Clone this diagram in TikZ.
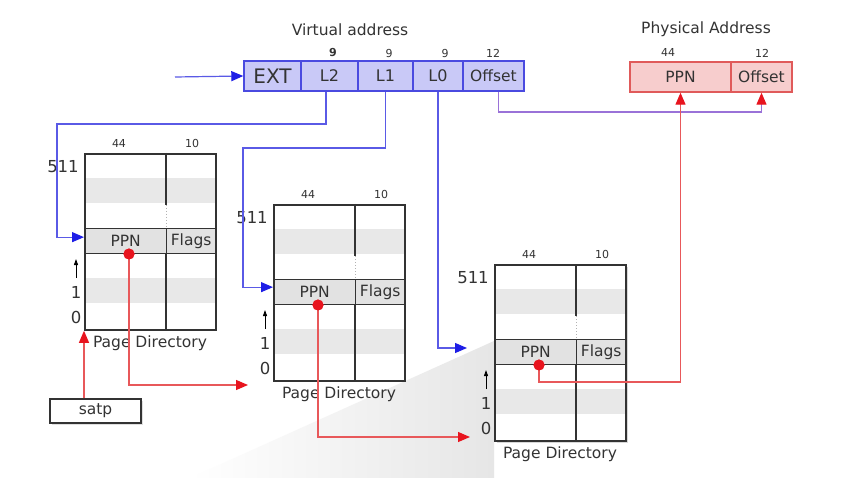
\documentclass[tikz,border=0pt]{standalone}
\usepackage{fontspec}
\setmainfont{DejaVu Sans}
\usetikzlibrary{arrows.meta,shadows}
\definecolor{txt}{HTML}{333333}
\definecolor{vafill}{HTML}{C9C9F7}
\definecolor{vaborder}{HTML}{4A4AE0}
\definecolor{pafill}{HTML}{F7CDCD}
\definecolor{paborder}{HTML}{E05A5A}
\definecolor{bluel}{HTML}{5A5AE6}
\definecolor{bluetip}{HTML}{1E1EE6}
\definecolor{redl}{HTML}{E8585A}
\definecolor{redtip}{HTML}{E8141E}
\definecolor{offl}{HTML}{9A72D8}
\definecolor{rowgray}{HTML}{E2E2E2}
\definecolor{stripe}{HTML}{E8E8E8}
\definecolor{wedgec}{HTML}{E6E6E6}
\newcommand\fsz[1]{\fontsize{#1}{#1}\selectfont}
\tikzset{
  vafield/.style={draw=vaborder, fill=vafill, line width=1.4pt, minimum height=30pt, inner sep=0pt, text=txt, font=\fsz{16}},
  pafield/.style={draw=paborder, fill=pafill, line width=1.4pt, minimum height=30pt, inner sep=0pt, text=txt, font=\fsz{15.5}},
  bits/.style={text=txt, font=\fsz{11}, inner sep=0pt},
  title/.style={text=txt, font=\fsz{15.5}, inner sep=0pt},
  idx/.style={text=txt, font=\fsz{16.5}, inner sep=0pt},
  ppncell/.style={draw=txt, fill=rowgray, line width=1.3pt, minimum width=82pt, minimum height=25pt, inner sep=0pt, text=txt, font=\fsz{15.5}},
  flagcell/.style={draw=txt, fill=rowgray, line width=1.3pt, minimum width=49pt, minimum height=25pt, inner sep=0pt, text=txt, font=\fsz{15.5}},
  tframe/.style={draw=txt, line width=1.8pt, minimum width=131pt, minimum height=176pt, inner sep=0pt},
  tline/.style={draw=txt, line width=1.3pt},
  dotnode/.style={circle, fill=redtip, minimum size=11pt, inner sep=0pt},
  tipb/.style={-{Triangle[length=12pt,width=10pt,color=bluetip]}},
  tipr/.style={-{Triangle[length=12pt,width=10pt,color=redtip]}},
  bline/.style={draw=bluel, line width=1.2pt, tipb},
  rline/.style={draw=redl, line width=1.2pt, tipr},
  oline/.style={draw=offl, line width=1.2pt, tipr},
  uparrow/.style={draw=black, line width=0.9pt, -{Triangle[length=6pt,width=4pt]}},
  satpbox/.style={draw=txt, fill=white, line width=1.5pt, minimum width=91pt, minimum height=24pt, inner sep=0pt, text=txt, font=\fsz{15.5}, drop shadow={opacity=0.25, shadow xshift=2pt, shadow yshift=-2pt}},
}
\newcommand\pagetable[4]{%
\begin{scope}[shift={(#2,#3)}]
  \fill[white,#4] (0,0) rectangle (131,176);
  \fill[stripe] (0,25) rectangle (131,50);
  \fill[stripe] (0,125) rectangle (131,150);
  \node[ppncell, anchor=north west] (#1ppn) at (0,75) {PPN};
  \node[flagcell, anchor=north west] (#1flags) at (82,75) {Flags};
  \draw[tline] (82,0) -- (82,52);
  \draw[draw=gray!60, line width=1pt, dotted] (82,52) -- (82,75);
  \draw[tline] (82,100) -- (82,176);
  \node[tframe, anchor=north west] (#1) at (0,0) {};
  \node[bits] (#1wa) at (35,-10) {44};
  \node[bits] (#1wb) at (108,-10) {10};
  \node[idx] (#1top) at (-21,14) {511};
  \coordinate (#1ua) at (-8,125);
  \coordinate (#1ub) at (-8,106);
  \draw[uparrow] (#1ua) -- (#1ub);
  \node[idx] (#1one) at (-8,139) {1};
  \node[idx] (#1zero) at (-8,164) {0};
  \node[title] (#1name) at (66,190) {Page Directory};
  \node[dotnode] (#1dot) at (45,101) {};
\end{scope}}
\begin{document}
\begin{tikzpicture}[x=1pt,y=-1pt]
\useasboundingbox (0,0) rectangle (845,478);
\fill[white] (0,0) rectangle (845,478);
% background wedge
\shade[left color=white, right color=wedgec] (190,478) -- (494,341) -- (494,478) -- cycle;

% virtual address
\node[title] (vatitle) at (350,30) {Virtual address};
\node[vafield, minimum width=57pt, font=\fsz{20}] (ext) at (272.5,76) {EXT};
\node[vafield, minimum width=57pt] (L2) at (329.5,76) {L2};
\node[vafield, minimum width=55pt] (L1) at (385.5,76) {L1};
\node[vafield, minimum width=50pt] (L0) at (438,76) {L0};
\node[vafield, minimum width=61pt, font=\fsz{15.5}] (voff) at (493.5,76) {Offset};
\node[bits, font=\bfseries\fsz{11}] (b2) at (333,53) {9};
\node[bits] (b1) at (389,53) {9};
\node[bits] (b0) at (445,53) {9};
\node[bits] (bo) at (493,53) {12};
\coordinate (vain) at (175,77);
\draw[bline] (vain) -- (ext.west);

% physical address
\node[title] (patitle) at (706,29) {Physical Address};
\node[pafield, minimum width=101pt] (pppn) at (680.5,77) {PPN};
\node[pafield, minimum width=61pt] (poff) at (761.5,77) {Offset};
\node[bits] (pb1) at (668,52) {44};
\node[bits] (pb2) at (762,53) {12};

% page tables
\pagetable{t1}{84}{153}{}
\pagetable{t2}{273}{204}{}
\pagetable{t3}{494}{264}{drop shadow={opacity=0.3, shadow xshift=3pt, shadow yshift=-3pt}}

% satp
\node[satpbox] (satp) at (95.5,411) {satp};

% blue connectors
\coordinate (l2bend) at (57,124);
\coordinate (l1bend) at (243,148);
\coordinate (l0end) at (467,348);
\coordinate (offy) at (600,112);
\draw[bline] ([xshift=-3.5pt]L2.south) |- (l2bend) |- ([yshift=4pt]t1ppn.west);
\draw[bline] (L1.south) |- (l1bend) |- ([yshift=5pt]t2ppn.west);
\draw[bline] (L0.south) |- (l0end);
\draw[oline] ([xshift=5pt]voff.south) |- (offy) -| (poff.south);

% red connectors
\coordinate (r1end) at (248,385);
\coordinate (r2end) at (470,437);
\coordinate (r3bend) at (600,382);
\draw[rline] (satp.north -| t1.south west) -- (t1.south west);
\draw[rline] (t1dot.center) |- (r1end);
\draw[rline] (t2dot.center) |- (r2end);
\draw[rline] (t3dot.center) |- (r3bend) -| (pppn.south);
\node[dotnode] at (t1dot) {};
\node[dotnode] at (t2dot) {};
\node[dotnode] at (t3dot) {};
\end{tikzpicture}
\end{document}
